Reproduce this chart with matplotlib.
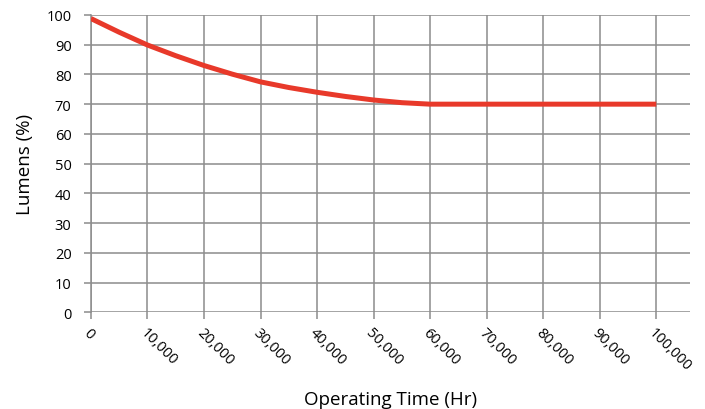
import numpy as np
import matplotlib.pyplot as plt

plt.rcParams['font.family'] = ['Open Sans', 'DejaVu Sans']

# operating time (hr) vs lumen maintenance (%)
hours = [0, 5000, 10000, 15000, 20000, 25000, 30000, 35000, 40000,
         45000, 50000, 55000, 60000, 70000, 80000, 90000, 100000]
lumens = [98.8, 94.2, 89.9, 86.3, 83.0, 80.1, 77.5, 75.6, 74.0,
          72.6, 71.4, 70.5, 70.0, 70.0, 70.0, 70.0, 70.0]

xticks = list(range(0, 100001, 10000))
xlabels = ['0', '10,000', '20,000', '30,000', '40,000', '50,000',
           '60,000', '70,000', '80,000', '90,000', '100,000']
yticks = list(range(0, 101, 10))

fig = plt.figure(figsize=(7.05, 4.10), dpi=100)
ax = fig.add_axes([0.129, 0.236, 0.850, 0.725])

grid_c = '#8c8c8c'
ax.plot(hours, lumens, color='#e8392a', lw=3.6, solid_capstyle='butt', zorder=3)

ax.set_xlim(0, 106000)
ax.set_ylim(0, 100)
ax.set_xticks(xticks)
ax.set_xticklabels(xlabels, rotation=-45, ha='left', va='top',
                   rotation_mode='anchor', fontsize=10.5)
ax.set_yticks(yticks)
ax.set_yticklabels([str(v) for v in yticks], fontsize=10.5)
ax.grid(True, color=grid_c, lw=1.1)
for s in ['top', 'right', 'bottom']:
    ax.spines[s].set_visible(False)
ax.spines['left'].set_color(grid_c)
ax.spines['left'].set_linewidth(1.1)
ax.tick_params(axis='both', color=grid_c, width=1.1, length=5, direction='out')
ax.tick_params(axis='y', pad=9)
ax.tick_params(axis='x', pad=4)

ax.set_xlabel('Operating Time (Hr)', fontsize=13.5, labelpad=12)
ax.set_ylabel('Lumens (%)', fontsize=13.5, labelpad=9)

plt.savefig('out.png', dpi=100)
